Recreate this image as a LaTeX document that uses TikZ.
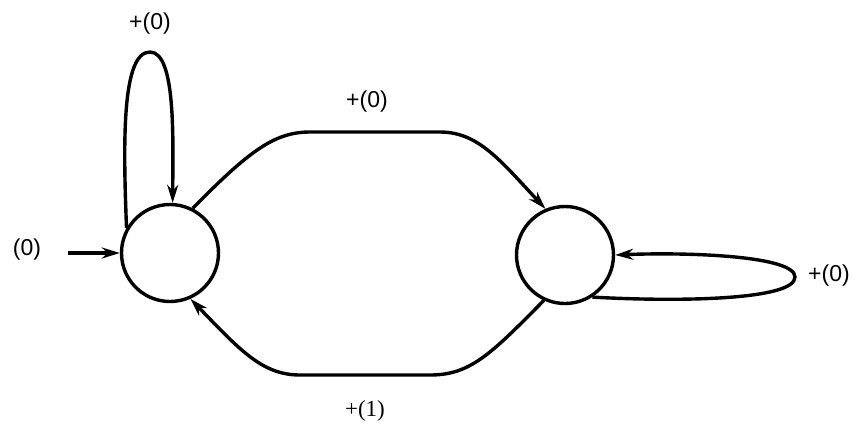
\documentclass[tikz,border=0pt]{standalone}
\usepackage{fontspec}
\setmainfont{Liberation Sans}
\newfontfamily\seriffont{Liberation Serif}
\usetikzlibrary{arrows.meta}
\begin{document}
\begin{tikzpicture}[x=1pt,y=-1pt,
  state/.style={circle,draw,line width=3.4pt,minimum size=97pt,inner sep=0pt},
  edge/.style={line width=3.4pt,-{Stealth[length=18pt,width=11pt]}},
  lbl/.style={font=\fontsize{23}{26}\selectfont,inner sep=0pt}]
\useasboundingbox (0,0) rectangle (862,429);
\node[state] (L) at (170,253) {};
\node[state] (R) at (565,255) {};
\coordinate (start) at (68,253);
\node[lbl] (init) at (27,250) {(0)};
\node[lbl] (lloop) at (150,24) {+(0)};
\node[lbl] (top) at (367,102) {+(0)};
\node[lbl] (bot) at (365,411) {\seriffont +(1)};
\node[lbl,anchor=west] (rloop) at (808,276) {+(0)};
\draw[edge] (start) -- (L.west);
\draw[edge] (L.150) .. controls (123,140) and (122,52) .. (150,52)
   .. controls (176,52) and (173,140) .. (L.87);
\draw[edge] (L.63) .. controls (250,150) and (275,132) .. (310,132) -- (440,132)
   .. controls (478,132) and (500,160) .. (R.113);
\draw[edge] (R.245) .. controls (490,355) and (470,375) .. (430,375) -- (300,375)
   .. controls (262,375) and (240,350) .. (L.294);
\draw[edge] (R.-57) .. controls (680,302) and (795,300) .. (795,277)
   .. controls (795,256) and (690,252) .. (R.east);
\end{tikzpicture}
\end{document}
